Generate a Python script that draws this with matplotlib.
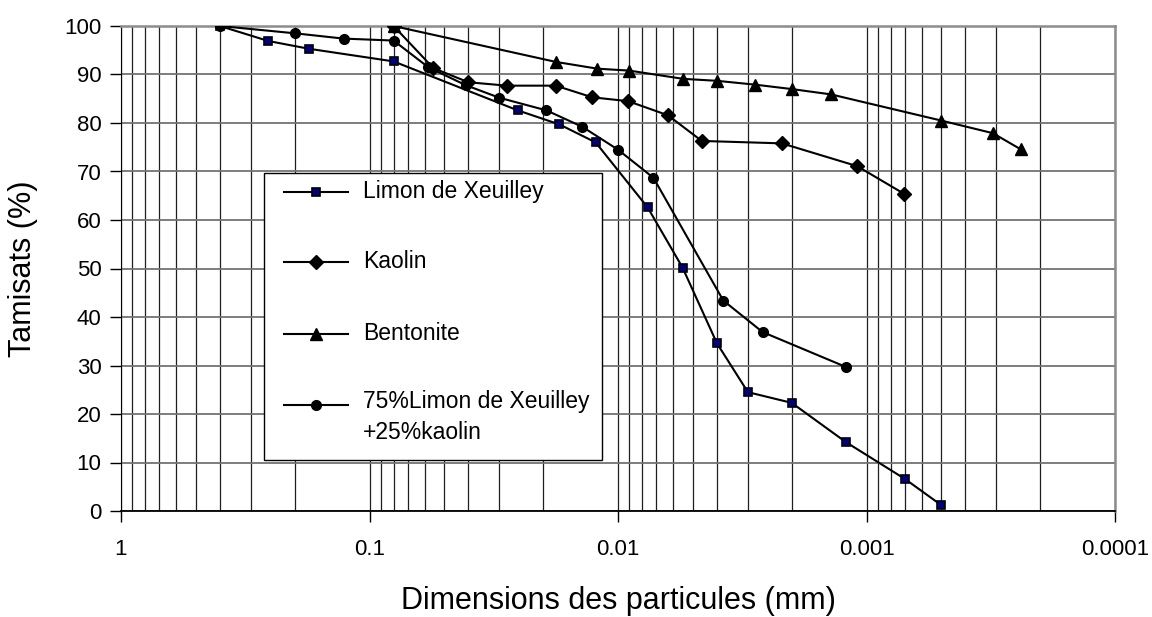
import matplotlib
matplotlib.use('Agg')
import matplotlib.pyplot as plt
from matplotlib.lines import Line2D
from matplotlib.patches import Rectangle

plt.rcParams['font.family'] = ['Liberation Sans', 'DejaVu Sans']

# Courbes granulométriques (diamètre en mm, tamisat en %)
limon_d = [0.4, 0.255, 0.175, 0.08, 0.0253, 0.0172, 0.0123, 0.0076, 0.0055,
           0.004, 0.003, 0.002, 0.00121, 0.0007, 0.0005]
limon_p = [100, 96.9, 95.3, 92.7, 82.6, 79.7, 76.0, 62.6, 50.2,
           34.6, 24.5, 22.3, 14.2, 6.6, 1.2]

kaolin_d = [0.08, 0.0553, 0.04, 0.028, 0.0178, 0.0127, 0.0091, 0.0063,
            0.0046, 0.00219, 0.00109, 0.000706]
kaolin_p = [100, 91.3, 88.4, 87.7, 87.7, 85.3, 84.5, 81.6,
            76.3, 75.8, 71.1, 65.4]

bento_d = [0.08, 0.0178, 0.0121, 0.009, 0.00546, 0.004, 0.0028, 0.002,
           0.00139, 0.0005, 0.00031, 0.00024]
bento_p = [100, 92.6, 91.2, 90.8, 89.1, 88.7, 87.9, 87.0,
           85.9, 80.5, 77.9, 74.6]

mix_d = [0.4, 0.2, 0.127, 0.08, 0.058, 0.041, 0.03, 0.0194, 0.0139,
         0.01, 0.0072, 0.00377, 0.00262, 0.00121]
mix_p = [100, 98.5, 97.4, 97.0, 91.5, 87.8, 85.2, 82.6, 79.2,
         74.5, 68.7, 43.4, 36.9, 29.7]

labels = ['Limon de Xeuilley', 'Kaolin', 'Bentonite',
          '75%Limon de Xeuilley\n+25%kaolin']
x_ticks = [1, 0.1, 0.01, 0.001, 0.0001]
x_ticklabels = ['1', '0.1', '0.01', '0.001', '0.0001']
y_ticks = list(range(0, 101, 10))

styles = [
    dict(marker='s', ms=6.3, mfc='#000080', mec='black', mew=1.2),
    dict(marker='D', ms=7.5, mfc='black', mec='black'),
    dict(marker='^', ms=8.5, mfc='black', mec='black'),
    dict(marker='o', ms=7, mfc='black', mec='black'),
]
series = [(limon_d, limon_p), (kaolin_d, kaolin_p),
          (bento_d, bento_p), (mix_d, mix_p)]

fig = plt.figure(figsize=(11.52, 6.17), dpi=100)
ax = fig.add_axes([121 / 1152, 1 - 511 / 617, 994 / 1152, 485 / 617])

for (d, p), st in zip(series, styles):
    ax.plot(d, p, color='black', lw=1.5, zorder=3, **st)

ax.set_xscale('log')
ax.set_xlim(1, 0.0001)
ax.set_ylim(0, 100)
ax.set_xticks(x_ticks)
ax.set_xticklabels(x_ticklabels)
ax.set_yticks(y_ticks)

ax.grid(which='both', axis='x', color='0.12', lw=0.9)
ax.grid(which='major', axis='y', color='0.45', lw=1.3)
ax.set_axisbelow(True)

ax.tick_params(which='major', direction='out', length=8, width=1,
               labelsize=16, pad=12)
ax.tick_params(axis='y', pad=6)
ax.tick_params(which='minor', length=0)

ax.spines['top'].set_color('0.55')
ax.spines['right'].set_color('0.55')
ax.spines['top'].set_linewidth(1.8)
ax.spines['right'].set_linewidth(1.8)
ax.spines['bottom'].set_linewidth(1.3)

ax.set_xlabel('Dimensions des particules (mm)', fontsize=22, labelpad=19)
ax.set_ylabel('Tamisats (%)', fontsize=22, labelpad=19)

# Légende dessinée à la main (poignée alignée sur la première ligne)
ax.add_patch(Rectangle((0.144, 0.105), 0.340, 0.5925, transform=ax.transAxes,
                       facecolor='white', edgecolor='black', lw=1.0, zorder=5))
rows_y = [0.658, 0.514, 0.365, 0.2186]
for lab, st, yy in zip(labels, styles, rows_y):
    ax.add_line(Line2D([0.1643, 0.2287], [yy, yy], transform=ax.transAxes,
                       color='black', lw=1.5, zorder=6))
    ax.add_line(Line2D([0.196], [yy], transform=ax.transAxes, ls='none',
                       zorder=7, **st))
    multi = '\n' in lab
    ax.text(0.2435, yy + (0.031 if multi else 0), lab, transform=ax.transAxes,
            fontsize=16.5, va='top' if multi else 'center', zorder=7,
            linespacing=1.45)

fig.savefig('out.png', dpi=100)
